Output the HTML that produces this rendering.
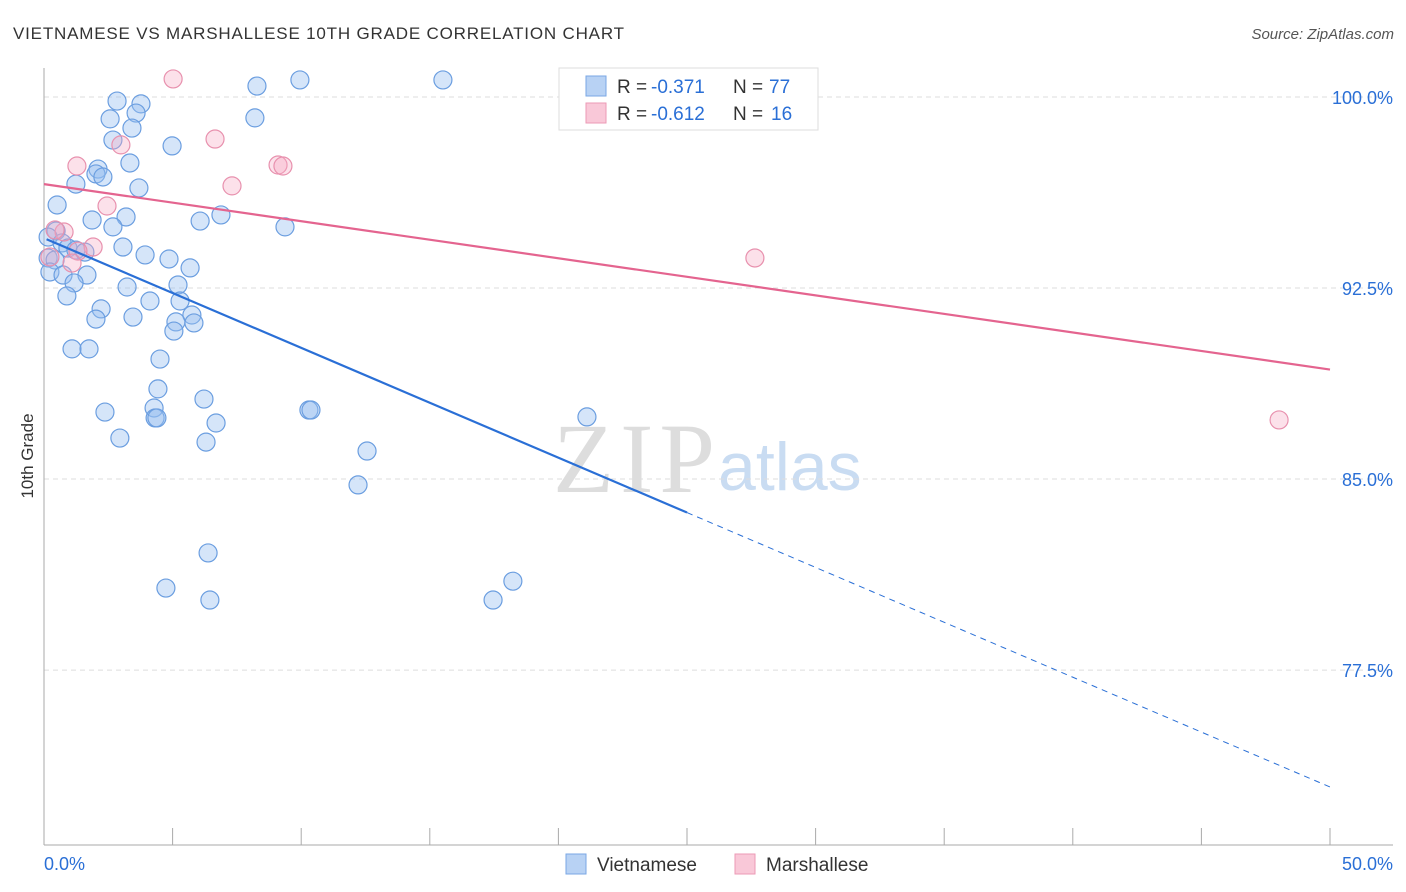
<!DOCTYPE html>
<html><head><meta charset="utf-8"><style>
body{margin:0;background:#fff;font-family:"Liberation Sans",sans-serif}
svg{display:block}
</style></head><body>
<svg id="chart" width="1406" height="892">
<text x="13" y="39" font-size="17" fill="#333" textLength="611">VIETNAMESE VS MARSHALLESE 10TH GRADE CORRELATION CHART</text>
<text x="1394" y="39" font-size="15" fill="#555" text-anchor="end" font-style="italic">Source: ZipAtlas.com</text>
<text x="553" y="492" font-size="100" fill="#ddd" font-family="Liberation Serif,serif" textLength="162">ZIP</text>
<text x="718" y="490" font-size="68" fill="#c9dcf2">atlas</text>
<text transform="translate(33,456) rotate(-90)" font-size="17" fill="#333" text-anchor="middle">10th Grade</text>
<g id="grid"></g><g id="marks"></g>
<g>
<rect x="559" y="68" width="259" height="62" fill="#fff" stroke="#ddd"/>
<rect x="586" y="76" width="20" height="20" fill="#b8d2f4" stroke="#7aa7e4"/>
<rect x="586" y="103" width="20" height="20" fill="#f9c8d8" stroke="#ec9ab6"/>
<text y="93" font-size="19" fill="#333"><tspan x="617">R = </tspan><tspan x="651" fill="#2a6fd6">-0.371</tspan><tspan x="733">N = </tspan><tspan x="769" fill="#2a6fd6">77</tspan></text>
<text y="120" font-size="19" fill="#333"><tspan x="617">R = </tspan><tspan x="651" fill="#2a6fd6">-0.612</tspan><tspan x="733">N = </tspan><tspan x="771" fill="#2a6fd6">16</tspan></text>
</g>
<rect x="566" y="854" width="20" height="20" fill="#b8d2f4" stroke="#7aa7e4"/>
<text x="597" y="871" font-size="19" fill="#333">Vietnamese</text>
<rect x="735" y="854" width="20" height="20" fill="#f9c8d8" stroke="#ec9ab6"/>
<text x="766" y="871" font-size="19" fill="#333">Marshallese</text>
</svg>
<script>
const blueX=[2.84,3.77,2.57,3.58,3.42,2.68,4.98,8.28,9.95,15.51,8.20,2.10,3.34,2.02,2.29,1.24,3.69,0.51,3.19,1.87,2.68,6.07,6.88,9.37,0.47,0.16,0.70,0.93,1.24,1.59,3.07,3.93,0.16,0.43,4.86,5.68,0.23,0.74,1.67,1.17,3.23,5.21,0.89,4.12,5.29,2.22,2.02,3.46,5.75,5.13,5.83,5.05,1.09,1.75,4.51,4.43,4.28,6.22,2.37,4.32,4.39,6.69,10.30,10.38,21.11,2.95,6.30,12.56,12.21,6.38,4.74,6.45,17.46,18.23];
const blueY=[99.84,99.73,99.14,99.37,98.78,98.31,98.08,100.43,100.67,100.67,99.18,97.17,97.41,96.98,96.86,96.58,96.43,95.76,95.29,95.17,94.90,95.13,95.37,94.90,94.74,94.50,94.27,94.07,93.99,93.91,94.11,93.80,93.68,93.60,93.64,93.29,93.13,93.01,93.01,92.70,92.54,92.62,92.19,91.99,91.99,91.68,91.28,91.36,91.44,91.17,91.13,90.81,90.11,90.11,89.71,88.54,87.79,88.14,87.63,87.40,87.40,87.20,87.71,87.71,87.44,86.61,86.45,86.10,84.77,82.10,80.72,80.25,80.25,80.99];
const pinkX=[5.02,1.28,2.99,6.65,7.31,9.10,9.29,2.45,0.78,0.43,1.91,1.32,1.09,0.23,27.64,48.02];
const pinkY=[100.71,97.29,98.12,98.35,96.51,97.33,97.29,95.72,94.70,94.78,94.11,93.95,93.48,93.72,93.68,87.32];
const blueTrend=[94.46,72.91];
const pinkTrend=[96.58,89.30];
const yTicks=[100,92.5,85,77.5];
const yTickLabels=["100.0%","92.5%","85.0%","77.5%"];
const xTicks=[0,5,10,15,20,25,30,35,40,45,50];
const xLabels=["0.0%","50.0%"];
const NS="http://www.w3.org/2000/svg";
const sx=v=>44+v*25.72, sy=v=>97+(100-v)*25.47;
function mk(t,a,p){const e=document.createElementNS(NS,t);for(const k in a)e.setAttribute(k,a[k]);p.appendChild(e);return e;}
const g=document.getElementById('grid'),m=document.getElementById('marks');
let e;
yTicks.forEach((v,i)=>{
 e=mk('line',{x1:44,x2:1393,y1:sy(v),y2:sy(v),stroke:'#ddd','stroke-dasharray':'5,4'},g);
 
 
 e=mk('text',{x:1393,y:sy(v)+7,'font-size':18,fill:'#2a6fd6','text-anchor':'end'},g);e.textContent=yTickLabels[i];
 
 
});
e=mk('line',{x1:44,x2:44,y1:68,y2:845,stroke:'#aaa'},g);


e=mk('line',{x1:44,x2:1393,y1:845,y2:845,stroke:'#aaa'},g);


xTicks.forEach(v=>{e=mk('line',{x1:sx(v),x2:sx(v),y1:828,y2:845,stroke:'#aaa'},g);
 
 });
e=mk('text',{x:44,y:870,'font-size':18,fill:'#2a6fd6'},g);e.textContent=xLabels[0];


e=mk('text',{x:1393,y:870,'font-size':18,fill:'#2a6fd6','text-anchor':'end'},g);e.textContent=xLabels[1];


blueX.forEach((x,i)=>{e=mk('circle',{cx:sx(x),cy:sy(blueY[i]),r:9,fill:'rgba(150,190,240,0.4)',stroke:'#6b9ee0','stroke-width':1.2},m);
 
 });
pinkX.forEach((x,i)=>{e=mk('circle',{cx:sx(x),cy:sy(pinkY[i]),r:9,fill:'rgba(245,170,195,0.35)',stroke:'#e891ae','stroke-width':1.2},m);
 
 });
const by=x=>blueTrend[0]+(blueTrend[1]-blueTrend[0])*x/50;
e=mk('line',{x1:sx(0.1),y1:sy(by(0.1)),x2:sx(25),y2:sy(by(25)),stroke:'#2a6fd6','stroke-width':2.2},m);


e=mk('line',{x1:sx(25),y1:sy(by(25)),x2:sx(50),y2:sy(by(50)),stroke:'#2a6fd6','stroke-width':1,'stroke-dasharray':'6,5'},m);


e=mk('line',{x1:sx(0),y1:sy(pinkTrend[0]),x2:sx(50),y2:sy(pinkTrend[1]),stroke:'#e4648f','stroke-width':2.2},m);


</script>
</body></html>
